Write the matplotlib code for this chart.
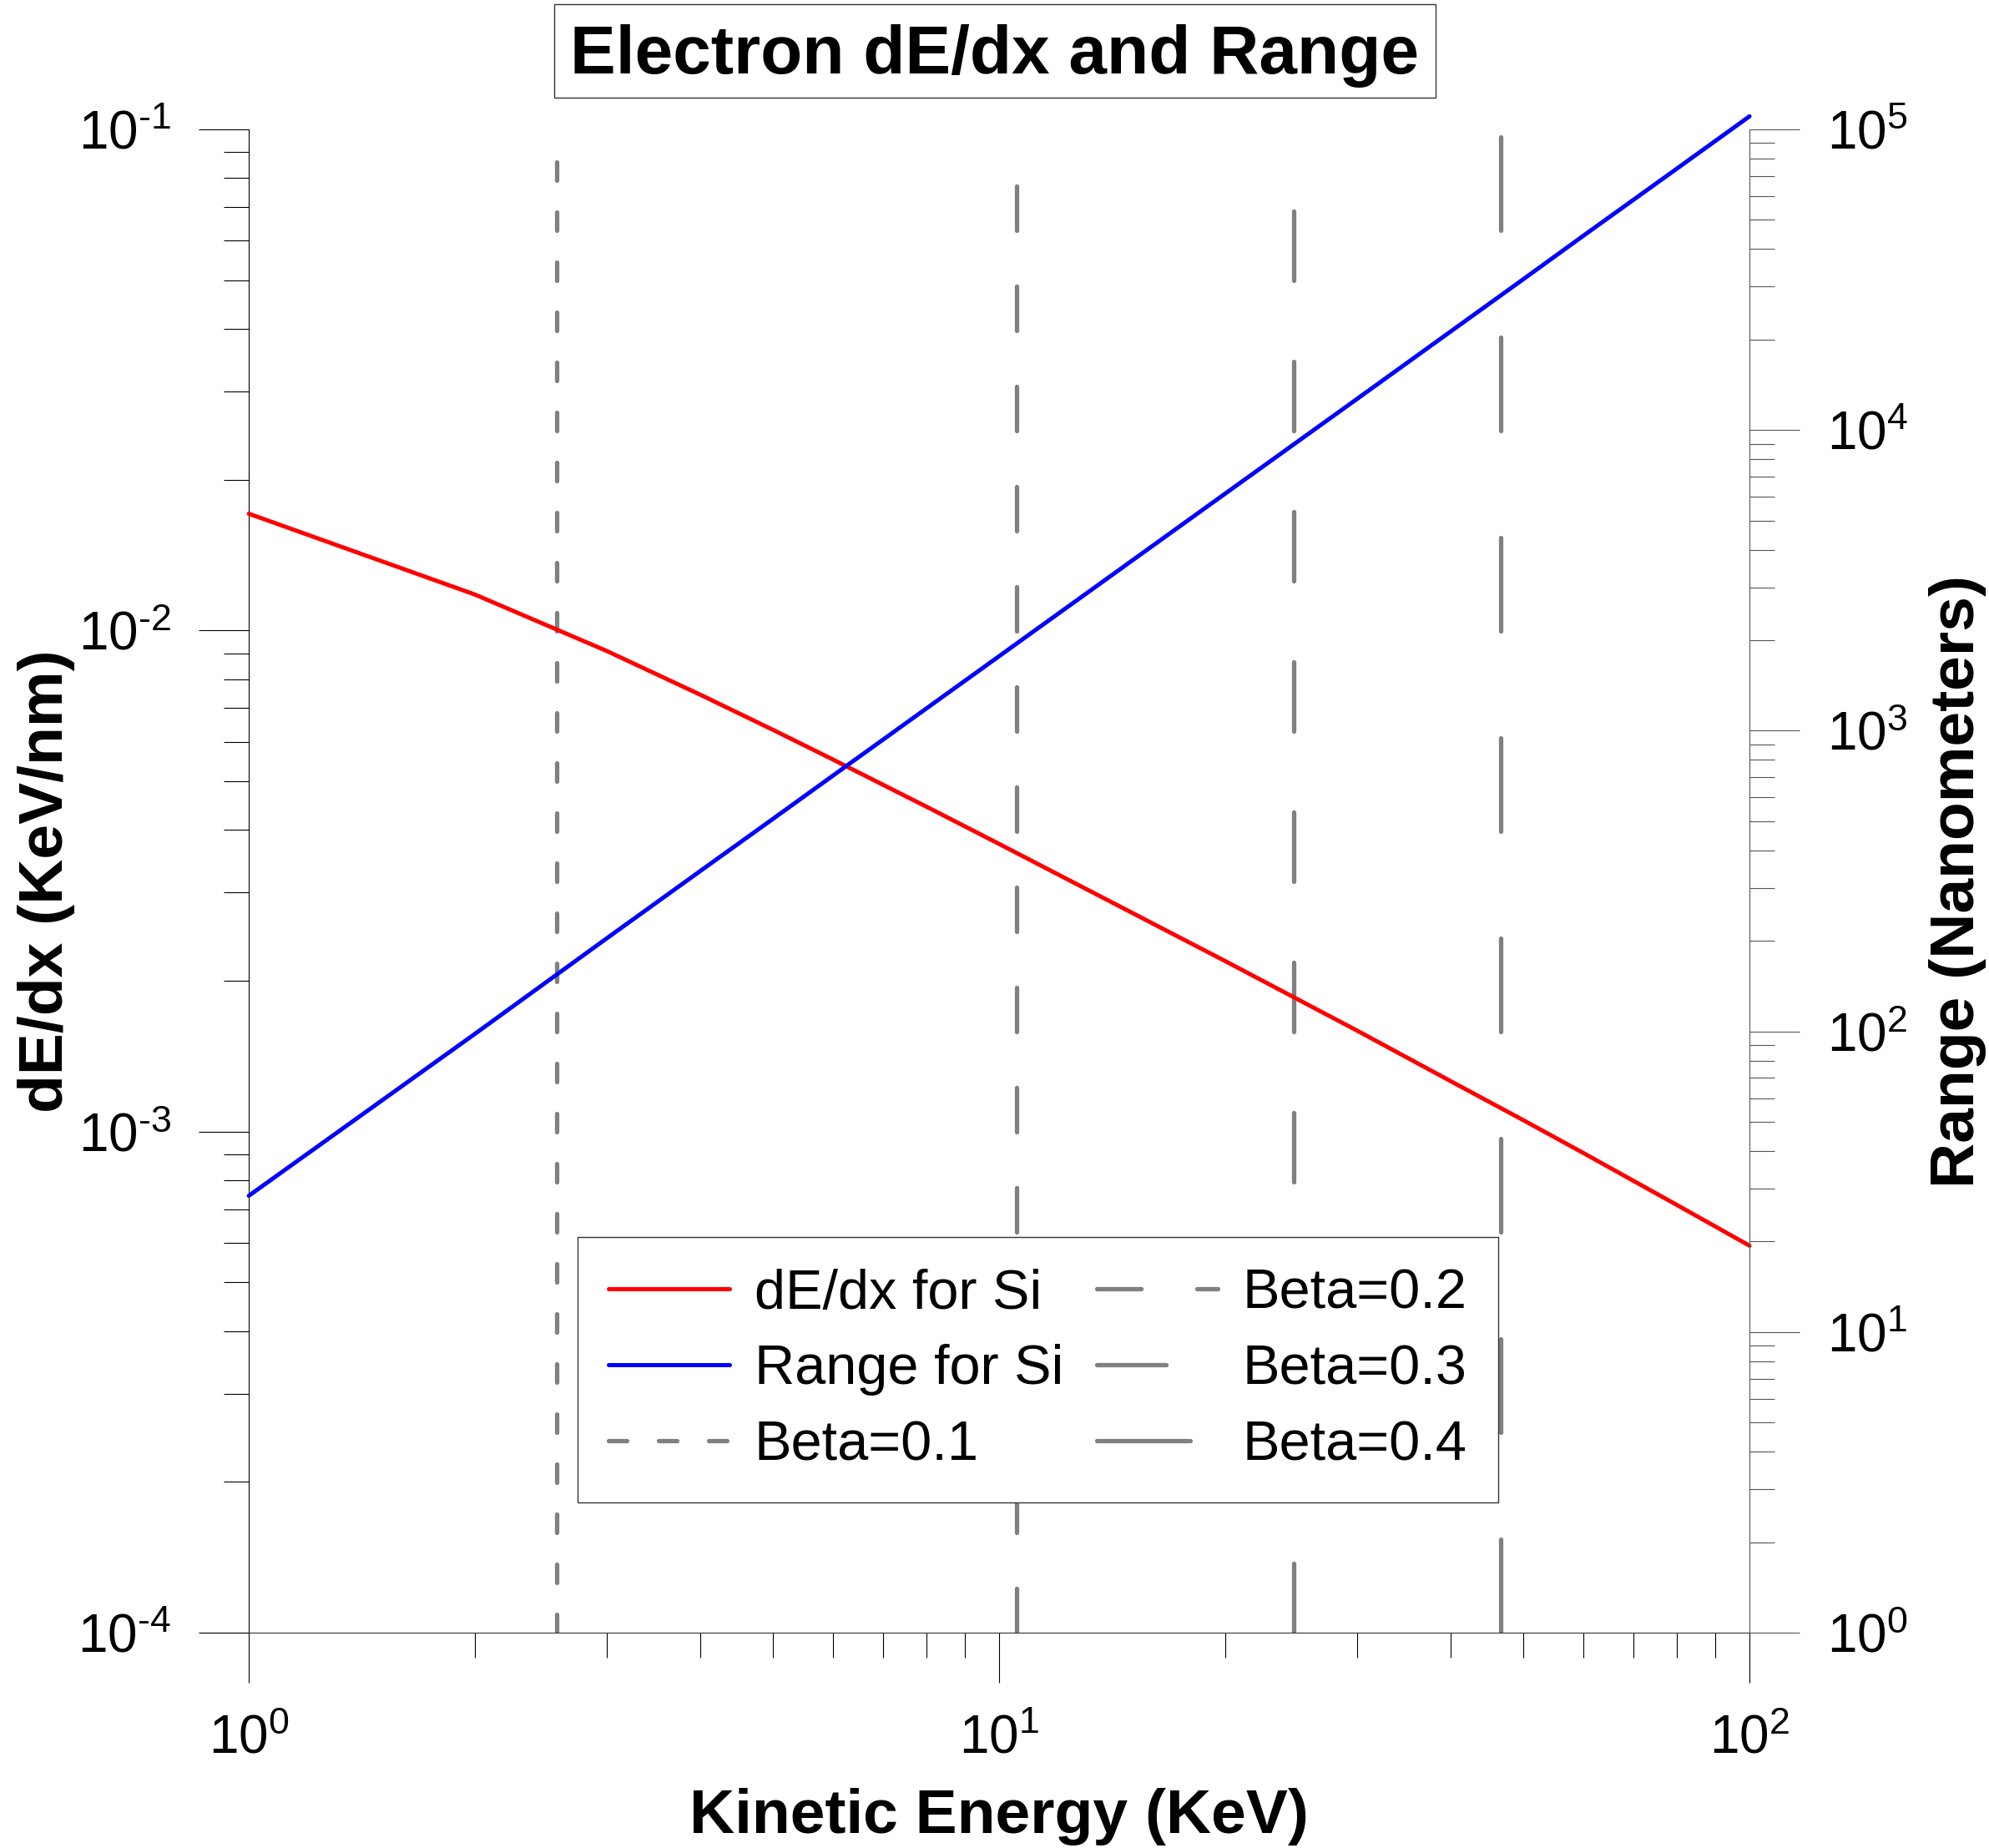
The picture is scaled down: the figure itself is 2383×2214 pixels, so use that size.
import matplotlib
matplotlib.use('Agg')

import matplotlib.pyplot as plt
from matplotlib.patches import Rectangle
from matplotlib.ticker import LogLocator, NullFormatter, FuncFormatter
import numpy as np

plt.rcParams['font.family'] = ['Liberation Sans', 'DejaVu Sans']
plt.rcParams['mathtext.fontset'] = 'custom'
plt.rcParams['mathtext.rm'] = 'Liberation Sans'
plt.rcParams['mathtext.it'] = 'Liberation Sans:italic'
plt.rcParams['mathtext.bf'] = 'Liberation Sans:bold'
plt.rcParams['lines.scale_dashes'] = False

# kinetic energy (KeV)
energy = [1, 2, 3, 4, 5, 6, 8, 10, 20, 30, 40, 50, 60, 80, 100]
# stopping power in Si (KeV/nm)
dedx_si = [0.0171, 0.0118, 0.0091, 0.00744, 0.00633, 0.00553, 0.00445, 0.00375,
           0.00219, 0.00159, 0.00126, 0.001053, 0.000907, 0.000714, 0.000592]
# range in Si (nm)
range_si = [28.4, 98, 204, 342, 510, 708, 1186, 1770, 6140, 12700, 21300,
            31800, 44200, 74000, 110500]

beta_labels = ['Beta=0.1', 'Beta=0.2', 'Beta=0.3', 'Beta=0.4']
beta_energy = [2.574, 10.54, 24.67, 46.55]
beta_line_span = [1e-4, 0.098]
beta_dashes = [(15.8, 27.4), (38.2, 48.2), (59.8, 69.8), (80.6, 92.2)]


def pow10_label(v, pos):
    e = int(round(np.log10(v)))
    s = str(abs(e))
    if e < 0:
        s = r'\text{-}' + s
    return r'$10^{%s}$' % s


DPI = 100
fig = plt.figure(figsize=(23.83, 22.14), dpi=DPI)
ax = fig.add_axes([0.1251, 0.1165, 0.7545, 0.8135])
ax2 = ax.twinx()

ax.set_xscale('log')
ax.set_yscale('log')
ax2.set_yscale('log')
ax.set_xlim(1, 100)
ax.set_ylim(1e-4, 1e-1)
ax2.set_ylim(1, 1e5)

# beta lines, drawn bottom -> top so the dash pattern starts at the axis
gray = '#808080'
beta_handles = []
for e, lab, d in zip(beta_energy, beta_labels, beta_dashes):
    ln, = ax.plot([e, e], beta_line_span, color=gray, lw=3.8, dashes=d,
                  dash_capstyle='round', label=lab)
    beta_handles.append(ln)

red, = ax.plot(energy, dedx_si, color='#ff0000', lw=3.6, solid_capstyle='round',
               label='dE/dx for Si', clip_on=False, zorder=3)
blue, = ax2.plot(energy, range_si, color='#0000ff', lw=3.6, solid_capstyle='round',
                 label='Range for Si', clip_on=False, zorder=3)

# spines
for s in ['top', 'right']:
    ax.spines[s].set_visible(False)
for s in ['top', 'left', 'bottom']:
    ax2.spines[s].set_visible(False)
ax.spines['left'].set_linewidth(0.8)
ax.spines['bottom'].set_linewidth(0.8)
ax.spines['bottom'].set_color('#333333')
ax2.spines['right'].set_linewidth(0.8)
ax2.spines['right'].set_color('#555555')

for a in (ax, ax2):
    a.yaxis.set_major_formatter(FuncFormatter(pow10_label))
    a.yaxis.set_minor_locator(LogLocator(base=10, subs=range(2, 10), numticks=20))
    a.yaxis.set_minor_formatter(NullFormatter())
ax.xaxis.set_major_formatter(FuncFormatter(pow10_label))
ax.xaxis.set_minor_locator(LogLocator(base=10, subs=range(2, 10), numticks=20))
ax.xaxis.set_minor_formatter(NullFormatter())

ax.tick_params(axis='both', which='major', direction='out', length=43, width=0.8,
               labelsize=46, pad=24)
ax.tick_params(axis='both', which='minor', direction='out', length=21.6, width=0.8)
ax.tick_params(axis='x', which='major', pad=27)
ax.tick_params(top=False, right=False, which='both')
ax2.tick_params(axis='y', which='major', direction='out', length=43, width=0.8,
                labelsize=46, pad=24, color='#555555')
ax2.tick_params(axis='y', which='minor', direction='out', length=21.6, width=0.8,
                color='#555555')

ax.set_xlabel('Kinetic Energy (KeV)', fontsize=54, fontweight='bold', labelpad=21)
ax.set_ylabel('dE/dx (KeV/nm)', fontsize=54, fontweight='bold', labelpad=2)
ax2.set_ylabel('Range (Nanometers)', fontsize=54, fontweight='bold', labelpad=18)

handles = [red, blue] + beta_handles
labels = [h.get_label() for h in handles]
leg = ax2.legend(handles, labels, ncol=2, loc='upper left',
                 bbox_to_anchor=(0.219, 0.263), fontsize=48, frameon=True,
                 fancybox=False, edgecolor='#333333', framealpha=1,
                 borderpad=0.56, labelspacing=0.43, handlelength=2.17,
                 handletextpad=0.45, columnspacing=0.6, borderaxespad=0)
leg.get_frame().set_linewidth(1.0)

# title box
fig.add_artist(Rectangle((0.2786, 0.9472), 0.4431, 0.0506, transform=fig.transFigure,
                         facecolor='white', edgecolor='#333333', lw=1.0))
fig.text(0.5002, 0.9603, 'Electron dE/dx and Range', ha='center', va='baseline',
         fontsize=59, fontweight='bold')

fig.savefig('out.png', dpi=DPI)
